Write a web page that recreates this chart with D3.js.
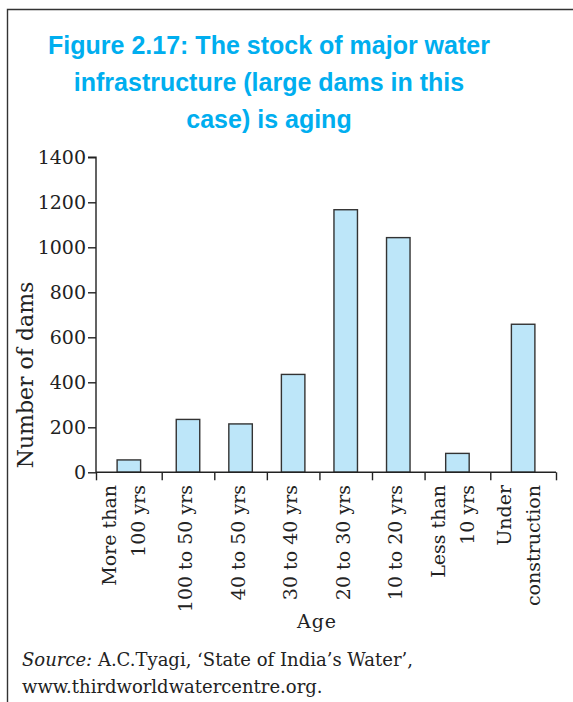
<!DOCTYPE html>
<html>
<head>
<meta charset="utf-8">
<script src="https://cdn.jsdelivr.net/npm/d3@7"></script>
<style>
  html, body { margin: 0; padding: 0; background: #fff; }
  svg { display: block; }
</style>
</head>
<body>
<div id="chart"></div>
<script>
// ---- data ----
const categories = [
  ["More than", "100 yrs"],
  ["100 to 50 yrs"],
  ["40 to 50 yrs"],
  ["30 to 40 yrs"],
  ["20 to 30 yrs"],
  ["10 to 20 yrs"],
  ["Less than", "10 yrs"],
  ["Under", "construction"]
];
const damCounts = [55, 235, 215, 435, 1167, 1043, 84, 658];
const yTicks = [0, 200, 400, 600, 800, 1000, 1200, 1400];
const titleLines = [
  "Figure 2.17: The stock of major water",
  "infrastructure (large dams in this",
  "case) is aging"
];
const yAxisTitle = "Number of dams";
const xAxisTitle = "Age";

// ---- layout ----
const W = 573, H = 702;
const svg = d3.select("#chart").append("svg").attr("width", W).attr("height", H);
const serif = "'DejaVu Serif', serif";
const ink = "#222";

// frame
svg.append("path")
  .attr("d", `M7.5,${H} L7.5,9.5 L${W},9.5`)
  .attr("fill", "none").attr("stroke", "#333").attr("stroke-width", 1.4);

// title
svg.append("g").selectAll("text").data(titleLines).join("text")
  .attr("x", 269).attr("y", (d, i) => 54 + i * 37)
  .attr("text-anchor", "middle")
  .attr("font-family", "'Liberation Sans', Arial, sans-serif")
  .attr("font-weight", "bold").attr("font-size", 25)
  .attr("fill", "#00aeef")
  .text(d => d);

// scales
const x0 = 96, x1 = 556, y0 = 472.3, y1 = 157.3;
const y = d3.scaleLinear().domain([0, 1400]).range([y0, y1]);

// band widths follow the number of label lines
const weights = categories.map(c => c.length > 1 ? 1.25 : 1);
const bounds = [0];
weights.forEach(w => bounds.push(bounds[bounds.length - 1] + w));
const xs = d3.scaleLinear().domain([0, bounds[bounds.length - 1]]).range([x0, x1]);
const centers = weights.map((w, i) => xs(bounds[i] + w / 2));
const barW = 23.5;

// bars
svg.append("g").selectAll("rect").data(damCounts).join("rect")
  .attr("x", (d, i) => centers[i] - barW / 2)
  .attr("y", d => y(d))
  .attr("width", barW)
  .attr("height", d => y(0) - y(d))
  .attr("fill", "#bde6f9")
  .attr("stroke", "#333").attr("stroke-width", 1.4);

// y axis
const yAxis = svg.append("g").attr("transform", `translate(${x0},0)`)
  .call(d3.axisLeft(y).tickValues(yTicks).tickSize(8).tickPadding(2).tickFormat(d3.format("d")));
yAxis.select(".domain").attr("stroke", ink).attr("stroke-width", 1.4).attr("d", `M-8,${y1}H0V${y0}`);
yAxis.selectAll(".tick line").attr("stroke", ink).attr("stroke-width", 1.4);
yAxis.selectAll(".tick text").attr("font-family", serif).attr("font-size", 19).attr("fill", ink);

// x axis (ticks at band boundaries)
const xAxis = svg.append("g").attr("transform", `translate(0,${y0})`)
  .call(d3.axisBottom(xs).tickValues(bounds).tickSize(8).tickFormat(""));
xAxis.select(".domain").attr("stroke", ink).attr("stroke-width", 1.4).attr("d", `M${x0},0H${x1}`);
xAxis.selectAll(".tick line").attr("stroke", ink).attr("stroke-width", 1.4);

// category labels (rotated)
const lineGap = 29;
const lab = svg.append("g");
categories.forEach((lines, i) => {
  const n = lines.length;
  lines.forEach((t, j) => {
    const cx = centers[i] + (n > 1 ? (j - 0.5) * lineGap + 2 : 4);
    lab.append("text")
      .attr("transform", `translate(${cx},485) rotate(-90)`)
      .attr("text-anchor", "end")
      .attr("font-family", serif).attr("font-size", 19).attr("fill", ink)
      .text(t);
  });
});

// axis titles
svg.append("text")
  .attr("x", 317).attr("y", 628)
  .attr("text-anchor", "middle")
  .attr("font-family", serif).attr("font-size", 19).attr("fill", ink)
  .attr("letter-spacing", 1)
  .text(xAxisTitle);

svg.append("text")
  .attr("transform", `translate(33,375) rotate(-90)`)
  .attr("text-anchor", "middle")
  .attr("font-family", serif).attr("font-size", 22).attr("fill", ink)
  .text(yAxisTitle);

// source
const src = svg.append("text")
  .attr("x", 22).attr("y", 666)
  .attr("font-family", serif).attr("font-size", 18).attr("fill", ink);
src.append("tspan").attr("font-style", "italic").text("Source:");
src.append("tspan").text(" A.C.Tyagi, ‘State of India’s Water’,");
svg.append("text")
  .attr("x", 22).attr("y", 693)
  .attr("font-family", serif).attr("font-size", 18).attr("fill", ink)
  .text("www.thirdworldwatercentre.org.");
</script>
</body>
</html>
